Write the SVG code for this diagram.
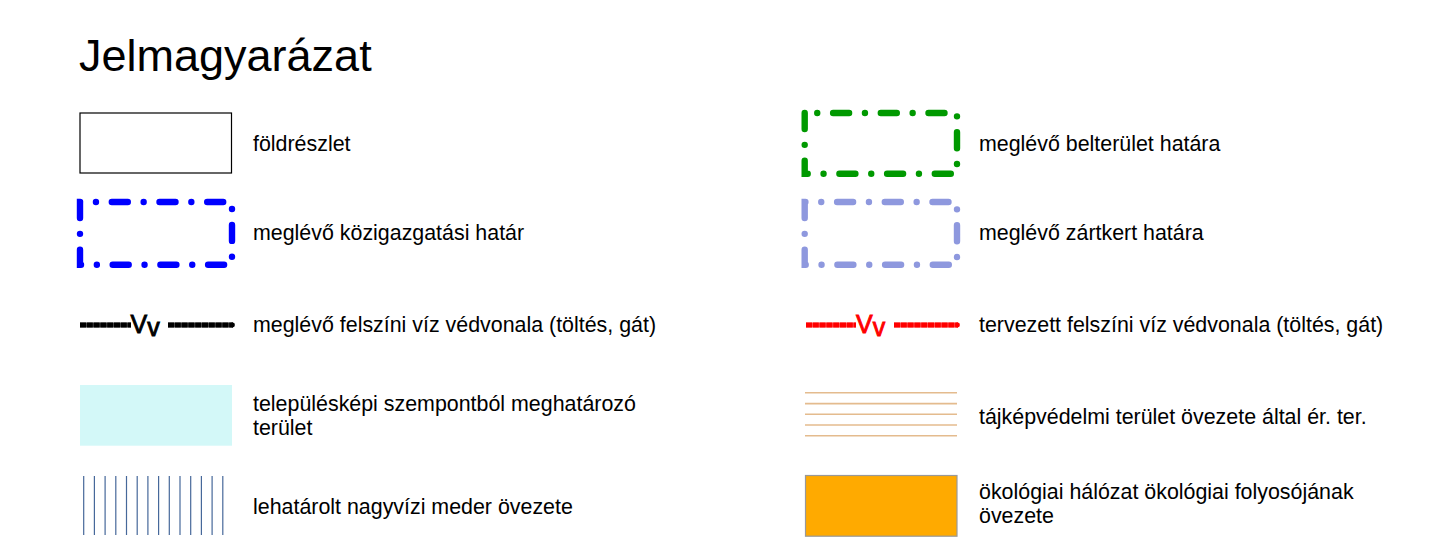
<svg xmlns="http://www.w3.org/2000/svg" width="1437" height="549" viewBox="0 0 1437 549">
<style>
text{font-family:"Liberation Sans",Arial,sans-serif;fill:#000}
.lbl{font-size:21.4px}
.title{font-size:45px}
.dashbox{fill:none;stroke-width:6.4;stroke-linecap:round;stroke-linejoin:miter;stroke-dasharray:16 15.85 0 15.85}
.vv{font-size:25px;stroke-width:0.9}
.dike{stroke-width:4.8;stroke-dasharray:6 0.8;fill:none}
.dikebase{stroke-width:4.8;fill:none}
.vline{stroke:#46689a;stroke-width:1.2}
.hline{stroke:#e4bb8e;stroke-width:1.6}
</style>
<rect width="1437" height="549" fill="#fff"/>
<text class="title" x="79" y="71">Jelmagyarázat</text>

<g id="foldreszlet">
<rect x="80" y="113" width="151.5" height="60" fill="#fff" stroke="#000" stroke-width="1.2"/>
<text class="lbl" x="253" y="151">földrészlet</text>
</g>

<g id="kozigazgatasi-hatar">
<path class="dashbox" stroke="#0000ff" d="M80 202 L80 264.7 L232 264.7 L232 202 Z"/>
<text class="lbl" x="253" y="240">meglévő közigazgatási határ</text>
</g>

<g id="felszini-viz-meglevo">
<line class="dikebase" stroke="#555" x1="80" y1="325" x2="131" y2="325"/>
<line class="dike" stroke="#000" x1="80" y1="325" x2="131" y2="325"/>
<text class="vv" x="130.5" y="333" stroke="#000">V<tspan dy="3">v</tspan></text>
<line class="dikebase" stroke="#555" x1="168" y1="325" x2="233" y2="325"/>
<line class="dike" stroke="#000" x1="168" y1="325" x2="233" y2="325"/>
<circle cx="232.5" cy="325" r="2.4" fill="#000"/>
<text class="lbl" x="253" y="332">meglévő felszíni víz védvonala (töltés, gát)</text>
</g>

<g id="telepuleskepi">
<rect x="80" y="385" width="152" height="60.7" fill="#d3f8f8"/>
<text class="lbl" x="253" y="411">településképi szempontból meghatározó</text>
<text class="lbl" x="253" y="435">terület</text>
</g>

<g id="nagyvizi-meder">
<g class="vline">
<line x1="83.7" y1="476" x2="83.7" y2="535"/>
<line x1="94.4" y1="476" x2="94.4" y2="535"/>
<line x1="105.1" y1="476" x2="105.1" y2="535"/>
<line x1="115.8" y1="476" x2="115.8" y2="535"/>
<line x1="126.5" y1="476" x2="126.5" y2="535"/>
<line x1="137.2" y1="476" x2="137.2" y2="535"/>
<line x1="147.9" y1="476" x2="147.9" y2="535"/>
<line x1="158.6" y1="476" x2="158.6" y2="535"/>
<line x1="169.3" y1="476" x2="169.3" y2="535"/>
<line x1="180" y1="476" x2="180" y2="535"/>
<line x1="190.7" y1="476" x2="190.7" y2="535"/>
<line x1="201.4" y1="476" x2="201.4" y2="535"/>
<line x1="212.1" y1="476" x2="212.1" y2="535"/>
<line x1="222.8" y1="476" x2="222.8" y2="535"/>
</g>
<text class="lbl" x="253" y="514">lehatárolt nagyvízi meder övezete</text>
</g>

<g id="belterulet-hatar">
<path class="dashbox" stroke="#009900" d="M804.7 113 L804.7 173.7 L957 173.7 L957 113 Z"/>
<text class="lbl" x="979" y="151">meglévő belterület határa</text>
</g>

<g id="zartkert-hatar">
<path class="dashbox" stroke="#8e98de" d="M804.7 202 L804.7 264.7 L957 264.7 L957 202 Z"/>
<text class="lbl" x="979" y="240">meglévő zártkert határa</text>
</g>

<g id="felszini-viz-tervezett">
<line class="dikebase" stroke="#ff6060" x1="806" y1="325" x2="856" y2="325"/>
<line class="dike" stroke="#ff0000" x1="806" y1="325" x2="856" y2="325"/>
<text class="vv" x="856" y="333" stroke="#ff0000" style="fill:#ff0000">V<tspan dy="3">v</tspan></text>
<line class="dikebase" stroke="#ff6060" x1="894" y1="325" x2="958" y2="325"/>
<line class="dike" stroke="#ff0000" x1="894" y1="325" x2="958" y2="325"/>
<circle cx="957.5" cy="325" r="2.4" fill="#ff0000"/>
<text class="lbl" x="979" y="332">tervezett felszíni víz védvonala (töltés, gát)</text>
</g>

<g id="tajkepvedelmi">
<g class="hline">
<line x1="805" y1="392.7" x2="957" y2="392.7"/>
<line x1="805" y1="403.6" x2="957" y2="403.6"/>
<line x1="805" y1="414.3" x2="957" y2="414.3"/>
<line x1="805" y1="425" x2="957" y2="425"/>
<line x1="805" y1="435.7" x2="957" y2="435.7"/>
</g>
<text class="lbl" x="979" y="424">tájképvédelmi terület övezete által ér. ter.</text>
</g>

<g id="okologiai-folyoso">
<rect x="805.5" y="475.5" width="151.5" height="60.7" fill="#ffaa00" stroke="#999" stroke-width="1.2"/>
<text class="lbl" x="979" y="499">ökológiai hálózat ökológiai folyosójának</text>
<text class="lbl" x="979" y="523">övezete</text>
</g>
</svg>
